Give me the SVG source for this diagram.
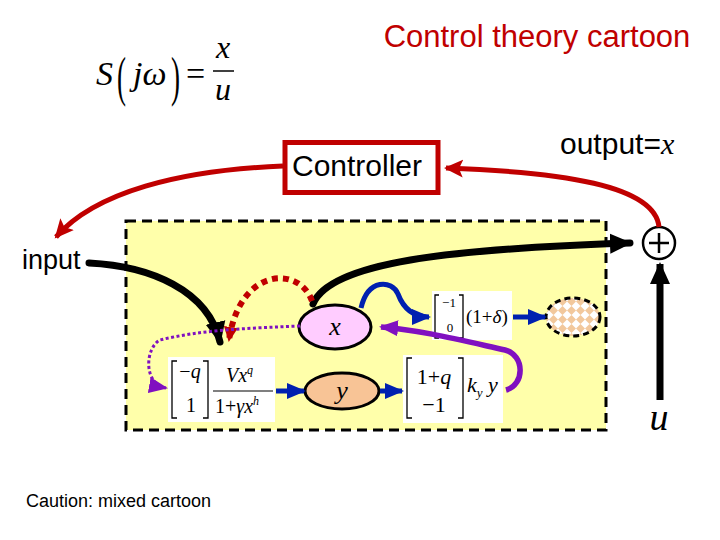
<svg xmlns="http://www.w3.org/2000/svg" width="720" height="540" viewBox="0 0 720 540">
<style>
.sans{font-family:"Liberation Sans",Arial,sans-serif;}
.math{font-family:"Liberation Serif","Times New Roman",serif;font-style:italic;}
.rm{font-family:"Liberation Serif","Times New Roman",serif;}
.br{fill:none;stroke:#000;stroke-width:1.3;}
.blk{fill:none;stroke:#000;stroke-width:7;stroke-linecap:round;}
.red{fill:none;stroke:#C00000;stroke-width:5;}
.blue{fill:none;stroke:#0020B0;stroke-width:5;}
</style>
<defs>
<marker id="ahBlack" markerUnits="userSpaceOnUse" markerWidth="24" markerHeight="24" viewBox="0 0 24 24" refX="20" refY="12" orient="auto"><path d="M0,2 L22,12 L0,22 Z" fill="#000"/></marker>
<marker id="ahRed" markerUnits="userSpaceOnUse" markerWidth="20" markerHeight="20" viewBox="0 0 20 20" refX="17" refY="10" orient="auto"><path d="M0,1 L19,10 L0,19 L4,10 Z" fill="#C00000"/></marker>
<marker id="ahBlue" markerUnits="userSpaceOnUse" markerWidth="20" markerHeight="20" viewBox="0 0 20 20" refX="17" refY="10" orient="auto"><path d="M0,2 L19,10 L0,18 Z" fill="#0020B0"/></marker>
<marker id="ahPurple" markerUnits="userSpaceOnUse" markerWidth="20" markerHeight="20" viewBox="0 0 20 20" refX="17" refY="10" orient="auto"><path d="M0,2 L19,10 L0,18 Z" fill="#8010C0"/></marker>
<marker id="ahRedSmall" markerUnits="userSpaceOnUse" markerWidth="16" markerHeight="16" viewBox="0 0 16 16" refX="13" refY="8" orient="auto"><path d="M0,1 L15,8 L0,15 Z" fill="#C00000"/></marker>
<pattern id="checker" patternUnits="userSpaceOnUse" width="9" height="9">
<rect width="9" height="9" fill="#fff"/>
<path d="M4.5,0 L9,4.5 L4.5,9 L0,4.5 Z" fill="#F2C89C"/>
</pattern>
</defs>
<rect width="720" height="540" fill="#fff"/>

<text class="sans" x="537" y="47" font-size="31" fill="#C00000" text-anchor="middle">Control theory cartoon</text>

<g id="formula">
<text class="math" x="96" y="85" font-size="34">S</text>
<text class="rm" x="117" y="95" font-size="54" transform="translate(117,95) scale(0.5,1) translate(-117,-95)">(</text>
<text class="math" x="133" y="85" font-size="34">jω</text>
<text class="rm" x="171" y="95" font-size="54" transform="translate(171,95) scale(0.5,1) translate(-171,-95)">)</text>
<text class="rm" x="186" y="85" font-size="34">=</text>
<text class="math" x="223" y="58" font-size="32" text-anchor="middle">x</text>
<line x1="213" y1="71" x2="234" y2="71" stroke="#000" stroke-width="1.5"/>
<text class="math" x="223" y="100" font-size="32" text-anchor="middle">u</text>
</g>

<g id="plant">
<rect x="126" y="221" width="480" height="209" fill="#FFFFAA" stroke="#000" stroke-width="3" stroke-dasharray="10,6"/>
</g>

<g id="controller">
<rect x="285" y="142.5" width="153" height="50" fill="#fff" stroke="#C00000" stroke-width="5"/>
<text class="sans" x="357" y="176" font-size="30" text-anchor="middle">Controller</text>
</g>

<g id="output-label">
<text x="560" y="154" font-size="30"><tspan class="sans">output=</tspan><tspan class="math">x</tspan></text>
</g>

<g id="input-label">
<text class="sans" x="22" y="269" font-size="27">input</text>
</g>

<g id="caution">
<text class="sans" x="26" y="507" font-size="18">Caution: mixed cartoon</text>
</g>

<g id="box1">
<rect x="168" y="357" width="107" height="65" fill="#fff"/>
<path class="br" d="M177,361 H172 V418 H177 M203,361 H208 V418 H203"/>
<text class="rm" x="190" y="378" font-size="20" text-anchor="middle">−<tspan class="math">q</tspan></text>
<text class="rm" x="191" y="412" font-size="20" text-anchor="middle">1</text>
<text class="math" x="226" y="382" font-size="20">Vx<tspan font-size="12" dy="-8">q</tspan></text>
<line x1="213" y1="391" x2="273" y2="391" stroke="#000" stroke-width="1.2"/>
<text class="rm" x="215" y="413" font-size="20">1+<tspan class="math">γx</tspan><tspan class="math" font-size="12" dy="-8">h</tspan></text>
</g>

<g id="box2">
<rect x="403" y="355" width="100" height="68" fill="#fff"/>
<path class="br" d="M412,358 H407 V418 H412 M458,358 H463 V418 H458"/>
<text class="rm" x="434" y="384" font-size="22" text-anchor="middle">1+<tspan class="math">q</tspan></text>
<text class="rm" x="434" y="412" font-size="22" text-anchor="middle">−1</text>
<text class="math" x="467" y="392" font-size="22">k<tspan font-size="13" dy="5">y</tspan><tspan dy="-5"> y</tspan></text>
</g>

<g id="box3">
<rect x="432" y="291" width="80" height="49" fill="#fff"/>
<path class="br" d="M439,295 H435 V338 H439 M459,295 H463 V338 H459"/>
<text class="rm" x="449" y="307" font-size="13" text-anchor="middle">−1</text>
<text class="rm" x="450" y="332" font-size="13" text-anchor="middle">0</text>
<text class="rm" x="466" y="323" font-size="19">(1+<tspan class="math">δ</tspan>)</text>
</g>

<g id="node-x">
<ellipse cx="335" cy="327" rx="36" ry="22" fill="#FFCCFF" stroke="#000" stroke-width="3"/>
<text class="math" x="335" y="335" font-size="26" text-anchor="middle">x</text>
</g>

<g id="node-y">
<ellipse cx="342" cy="391" rx="37" ry="18" fill="#F8C496" stroke="#000" stroke-width="3"/>
<text class="math" x="342" y="399" font-size="26" text-anchor="middle">y</text>
</g>

<g id="node-dashed">
<ellipse cx="573" cy="317" rx="27" ry="19" fill="url(#checker)" stroke="#000" stroke-width="3" stroke-dasharray="6,4"/>
</g>

<g id="junction">
<circle cx="659" cy="243" r="16" fill="#fff" stroke="#000" stroke-width="2.5"/>
<path d="M649,243 H669 M659,233 V253" stroke="#000" stroke-width="2.5"/>
</g>

<g id="u-label">
<text class="math" x="659" y="430" font-size="38" text-anchor="middle">u</text>
</g>

<g id="connectors">
<path class="red" d="M659,227 C655,185 560,172 446,168" marker-end="url(#ahRed)"/>
<path class="red" d="M283,166 C180,170 95,192 56,237" marker-end="url(#ahRed)"/>
<path class="blk" d="M89,263 C150,266 208,290 220,342" stroke-linecap="butt" marker-end="url(#ahBlack)"/>
<path class="blk" d="M313,304 C330,262 450,249 630,243" stroke-linecap="butt" marker-end="url(#ahBlack)"/>
<path d="M660,400 V264" stroke="#000" stroke-width="7" fill="none" marker-end="url(#ahBlack)"/>
<path d="M312,301 C300,266 240,266 229,340" fill="none" stroke="#C00000" stroke-width="6" stroke-dasharray="6,5" marker-end="url(#ahRedSmall)"/>
<path d="M300,326 C250,328 200,330 160,340 C145,348 143,384 166,388" fill="none" stroke="#8010C0" stroke-width="3" stroke-dasharray="3,2.5" marker-end="url(#ahPurple)"/>
<path d="M506,390 C525,385 525,355 505,350 C460,340 420,330 381,327" fill="none" stroke="#8010C0" stroke-width="5.5" marker-end="url(#ahPurple)"/>
<path class="blue" d="M361,308 C368,278 392,280 398,294 C404,310 415,317 429,317" marker-end="url(#ahBlue)"/>
<path class="blue" d="M276,391 H304" marker-end="url(#ahBlue)"/>
<path class="blue" d="M380,391 H402" marker-end="url(#ahBlue)"/>
<path class="blue" d="M513,317 H545" marker-end="url(#ahBlue)"/>
</g>
</svg>
